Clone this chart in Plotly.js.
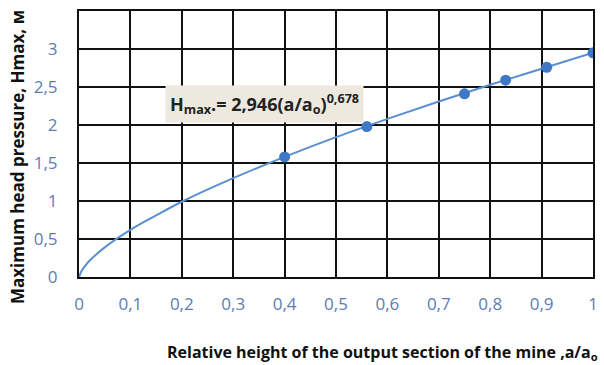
<!DOCTYPE html>
<html>
<head>
<meta charset="utf-8">
<script src="https://cdn.plot.ly/plotly-3.0.1.min.js"></script>
<style>html,body{margin:0;padding:0;background:#fff;}#chart{width:604px;height:365px;}</style>
</head>
<body>
<div id="chart"></div>
<script>
// Measured points
const pointX = [0.4, 0.56, 0.75, 0.83, 0.91, 1.0];
const pointY = [1.58, 1.98, 2.41, 2.59, 2.76, 2.95];
// Trend curve
const curveX = [0, 0.005, 0.01, 0.02, 0.05, 0.1, 0.15, 0.2, 0.3, 0.4, 0.5, 0.6, 0.7, 0.8, 0.9, 1.0];
const curveY = [0, 0.08, 0.13, 0.21, 0.39, 0.62, 0.81, 0.99, 1.30, 1.58, 1.84, 2.08, 2.31, 2.53, 2.74, 2.95];
const equationText = "H<sub>max</sub>.= 2,946(a/a<sub>o</sub>)<sup>0,678</sup>";
const xTitle = "Relative height of the output section of the mine ,a/a<sub>o</sub>";
const yTitle = "Maximum head pressure, Hmax, м";

const tickColor = "#5b7db3";
const fontFam = "Open Sans, Noto Sans, sans-serif";

const traces = [
  {x: curveX, y: curveY, type: "scatter", mode: "lines", line: {color: "#5a8fd2", width: 2, shape: "spline"}, hoverinfo: "skip"},
  {x: pointX, y: pointY, type: "scatter", mode: "markers", marker: {color: "#3f78c6", size: 11}}
];

const axisCommon = {
  showgrid: true, gridcolor: "#111", gridwidth: 2,
  showline: true, linecolor: "#111", linewidth: 2, mirror: true,
  zeroline: false, ticks: "",
  tickfont: {family: fontFam, size: 17, color: tickColor}
};

const layout = {
  width: 604, height: 365,
  margin: {l: 79, r: 11, t: 11, b: 88},
  paper_bgcolor: "#fff", plot_bgcolor: "#fff",
  separators: ", ",
  showlegend: false,
  xaxis: Object.assign({}, axisCommon, {range: [0, 1], dtick: 0.1, tick0: 0, ticklabelstandoff: 11}),
  yaxis: Object.assign({}, axisCommon, {range: [0, 3.5], dtick: 0.5, tick0: 0, ticklabelstandoff: 16}),
  annotations: [
    {xref: "paper", yref: "paper", x: (165 - 79) / 514, y: (277 - 104.5) / 266, xanchor: "left", yanchor: "middle",
     text: "<b>" + equationText + "</b>", showarrow: false,
     font: {family: fontFam, size: 18, color: "#222"},
     bgcolor: "#ede9df", borderpad: 4},
    {xref: "paper", yref: "paper", x: (382 - 79) / 514, y: -(352 - 277) / 266, xanchor: "center", yanchor: "middle",
     text: "<b>" + xTitle + "</b>", showarrow: false,
     font: {family: fontFam, size: 16, color: "#111"}},
    {xref: "paper", yref: "paper", x: -(79 - 17) / 514, y: (277 - 157) / 266, xanchor: "center", yanchor: "middle",
     text: "<b>" + yTitle + "</b>", textangle: -90, showarrow: false,
     font: {family: fontFam, size: 17, color: "#111"}}
  ]
};

Plotly.newPlot("chart", traces, layout, {displayModeBar: false, staticPlot: true});
</script>
</body>
</html>
